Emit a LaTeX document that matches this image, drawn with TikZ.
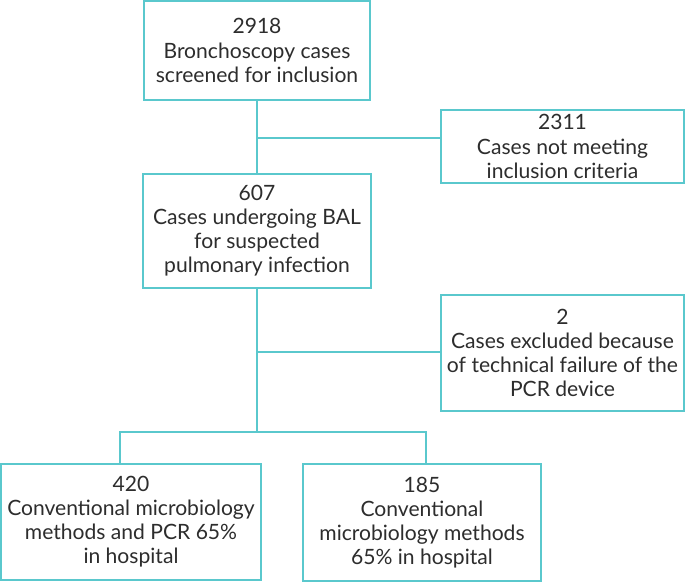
\documentclass[tikz,border=0pt]{standalone}
\usepackage{fontspec}
\setmainfont{Lato}
\definecolor{flowteal}{RGB}{90,200,205}
\definecolor{flowtext}{RGB}{45,45,45}

\begin{document}
\begin{tikzpicture}[x=0.02cm,y=-0.02cm,
    box/.style={draw=flowteal, line width=1.1pt, fill=white, text=flowtext,
      align=center, inner sep=0pt, font=\fontsize{12}{13.7}\selectfont},
    link/.style={draw=flowteal, line width=1.1pt}]
    \useasboundingbox (0,0) rectangle (685,582);
    \node[box, minimum width=4.52cm, minimum height=1.98cm] (screened) at (257,50.5)
        {2918\\Bronchoscopy cases\\screened for inclusion};
    \node[box, minimum width=4.86cm, minimum height=1.46cm] (notmet) at (562.5,146.5)
        {2311\\Cases not meeting\\inclusion criteria};
    \node[box, minimum width=4.56cm, minimum height=2.28cm] (bal) at (257,231)
        {607\\Cases undergoing BAL\\for suspected\\pulmonary infection};
    \node[box, minimum width=4.86cm, minimum height=2.32cm] (excluded) at (562.5,353)
        {2\\Cases excluded because\\of technical failure of the\\PCR device};
    \node[box, minimum width=5.2cm, minimum height=2.32cm] (pcr) at (131,522)
        {420\\Conventional microbiology\\methods and PCR 65\%\\in hospital};
    \node[box, minimum width=4.76cm, minimum height=2.34cm] (conv) at (422,522.5)
        {185\\Conventional\\microbiology methods\\65\% in hospital};
    % junctions on the main line
    \coordinate (j1) at (257,138);
    \coordinate (j2) at (257,352);
    \coordinate (split) at (257,432);
    \coordinate (lt) at (120,432);
    \coordinate (rt) at (426,432);
    \draw[link] (screened) -- (bal);
    \draw[link] (j1) -- (j1 -| notmet.west);
    \draw[link] (bal) -- (split);
    \draw[link] (j2) -- (j2 -| excluded.west);
    \draw[link] (lt |- pcr.north) -- (lt) -- (rt) -- (rt |- conv.north);
\end{tikzpicture}
\end{document}
